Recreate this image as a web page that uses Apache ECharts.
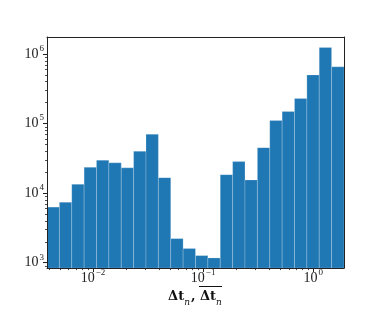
<!DOCTYPE html>
<html>
<head>
<meta charset="utf-8">
<script src="https://cdn.jsdelivr.net/npm/echarts@6/dist/echarts.min.js"></script>
<style>
  html, body { margin: 0; padding: 0; background: #fff; }
  #chart { width: 382px; height: 312px; }
</style>
</head>
<body>
<div id="chart"></div>
<script>
// bin edges of the histogram (log spaced)
var binEdges = [0.00382, 0.00495, 0.00641, 0.00830, 0.01075, 0.01393, 0.01805, 0.02337,
  0.03028, 0.03923, 0.05082, 0.06582, 0.08527, 0.1105, 0.1431, 0.1854, 0.2401,
  0.3111, 0.4030, 0.5221, 0.6761, 0.8758, 1.134, 1.469, 1.904];
// counts per bin
var counts = [6300, 7400, 13400, 23500, 29800, 27300, 23100, 40000, 70400, 16700,
  2220, 1600, 1265, 1170, 18450, 28400, 15500, 45100, 111000, 149000,
  229000, 501000, 1240000, 656000];

var xMajor = [0.01, 0.1, 1];
var xMinor = [0.004, 0.005, 0.006, 0.007, 0.008, 0.009,
  0.02, 0.03, 0.04, 0.05, 0.06, 0.07, 0.08, 0.09,
  0.2, 0.3, 0.4, 0.5, 0.6, 0.7, 0.8, 0.9];
var yMajor = [1e3, 1e4, 1e5, 1e6];
var yMinor = [900, 2e3, 3e3, 4e3, 5e3, 6e3, 7e3, 8e3, 9e3,
  2e4, 3e4, 4e4, 5e4, 6e4, 7e4, 8e4, 9e4,
  2e5, 3e5, 4e5, 5e5, 6e5, 7e5, 8e5, 9e5];

var xMin = 0.00382, xMax = 1.904;
var yMin = 836, yMax = 1758000;

var font = 'Liberation Serif';
var barData = counts.map(function (c, i) {
  return [binEdges[i], binEdges[i + 1], c];
});

function powLabel(v) {
  var e = Math.round(Math.log10(v));
  return '{b|10}{s|' + (e < 0 ? '\u2212' + (-e) : e) + '}';
}
var powRich = {
  b: { fontFamily: font, fontSize: 14, color: '#222', lineHeight: 14, verticalAlign: 'bottom' },
  s: { fontFamily: font, fontSize: 9, color: '#222', lineHeight: 9, padding: [0, 0, 8, 1], verticalAlign: 'bottom' }
};

var chart = echarts.init(document.getElementById('chart'));

function blankAxis(extra) {
  var a = {
    type: 'log', logBase: 10, splitLine: { show: false },
    axisLine: { show: false }, axisTick: { show: false }, axisLabel: { show: false }
  };
  for (var k in extra) a[k] = extra[k];
  return a;
}

var option = {
  animation: false,
  grid: { left: 47, right: 38, top: 37, bottom: 35 },
  xAxis: [
    {
      type: 'log', logBase: 10, min: xMin, max: xMax, position: 'bottom', z: 10,
      splitLine: { show: false },
      axisLine: { show: true, lineStyle: { color: '#222', width: 1 } },
      axisTick: { show: true, length: 4, customValues: xMajor, lineStyle: { color: '#222', width: 1 } },
      axisLabel: { margin: 3, customValues: xMajor, formatter: powLabel, rich: powRich },
      name: '{b|\u0394t}{n|n}{b|, \u0394t}{n|n}',
      nameLocation: 'middle', nameGap: 16,
      nameTextStyle: {
        rich: {
          b: { fontFamily: 'DejaVu Serif', fontSize: 13, fontWeight: 'bold', color: '#111', lineHeight: 14, verticalAlign: 'top' },
          n: { fontFamily: 'DejaVu Serif', fontSize: 9, fontStyle: 'italic', color: '#111', lineHeight: 9, padding: [8, 1, 0, 0], verticalAlign: 'top' }
        }
      }
    },
    blankAxis({ min: xMin, max: xMax, position: 'bottom', z: 10,
      axisTick: { show: true, length: 2, customValues: xMinor, lineStyle: { color: '#222', width: 0.8 } } }),
    blankAxis({ min: xMin, max: xMax, position: 'top', z: 10,
      axisLine: { show: true, onZero: false, lineStyle: { color: '#222', width: 1 } } })
  ],
  yAxis: [
    {
      type: 'log', logBase: 10, min: yMin, max: yMax, position: 'left', z: 10,
      splitLine: { show: false },
      axisLine: { show: true, lineStyle: { color: '#222', width: 1 } },
      axisTick: { show: true, length: 4, customValues: yMajor, lineStyle: { color: '#222', width: 1 } },
      axisLabel: { margin: 3, customValues: yMajor, formatter: powLabel, rich: powRich }
    },
    blankAxis({ min: yMin, max: yMax, position: 'left', z: 10,
      axisTick: { show: true, length: 2, customValues: yMinor, lineStyle: { color: '#222', width: 0.8 } } }),
    blankAxis({ min: yMin, max: yMax, position: 'right', z: 10,
      axisLine: { show: true, onZero: false, lineStyle: { color: '#222', width: 1 } } })
  ],
  series: [{
    type: 'custom',
    xAxisIndex: 0,
    yAxisIndex: 0,
    clip: true,
    data: barData,
    renderItem: function (params, api) {
      var p0 = api.coord([api.value(0), yMin]);
      var p1 = api.coord([api.value(1), api.value(2)]);
      return {
        type: 'rect',
        shape: { x: p0[0], y: p1[1], width: p1[0] - p0[0], height: p0[1] - p1[1] },
        style: { fill: '#1f77b4', stroke: 'rgba(255,255,255,0.3)', lineWidth: 0.7 }
      };
    }
  }],
  graphic: [{
    type: 'line', z: 20,
    shape: { x1: 199, y1: 286.5, x2: 222, y2: 286.5 },
    style: { stroke: '#111', lineWidth: 1 }
  }]
};
chart.setOption(option);
</script>
</body>
</html>
